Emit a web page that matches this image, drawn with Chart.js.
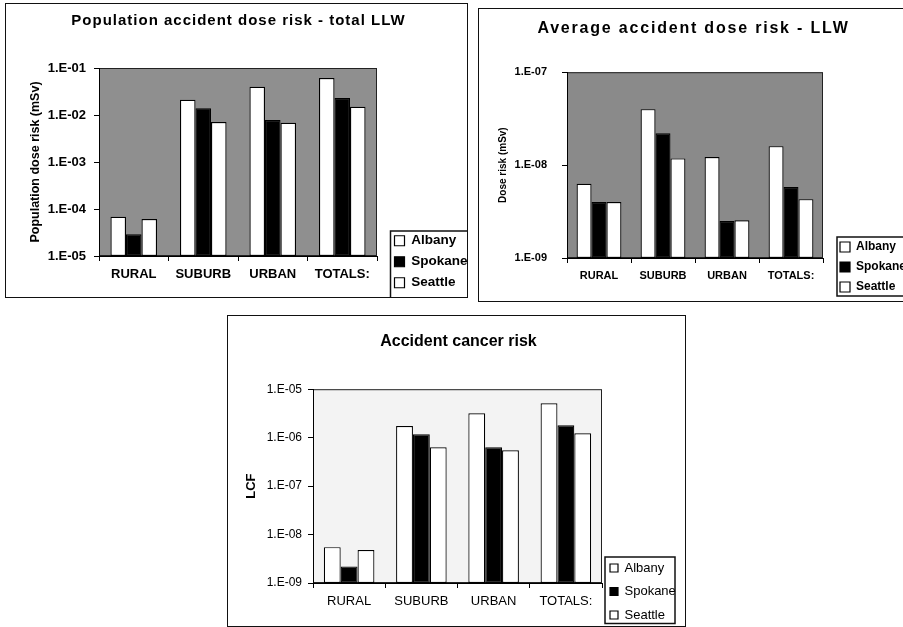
<!DOCTYPE html>
<html>
<head>
<meta charset="utf-8">
<script src="https://cdn.jsdelivr.net/npm/chart.js@4.4.1/dist/chart.umd.min.js"></script>
<style>
  body { margin: 0; background: #fff; width: 903px; height: 627px; overflow: hidden; position: relative; }
  .box { position: absolute; border: 1px solid #111; background: #fff; overflow: hidden; }
  .box canvas { position: absolute; left: 0; top: 0; }
</style>
</head>
<body>
<div class="box" style="left:5px;top:3px;width:461px;height:293px"><canvas id="c1" width="461" height="293"></canvas></div>
<div class="box" style="left:478px;top:8px;width:425px;height:292px"><canvas id="c2" width="425" height="292"></canvas></div>
<div class="box" style="left:227px;top:315px;width:457px;height:310px"><canvas id="c3" width="457" height="310"></canvas></div>
<script>
// Datos comunes
const categories = ['RURAL', 'SUBURB', 'URBAN', 'TOTALS:'];
const seriesNames = ['Albany', 'Spokane', 'Seattle'];

// Population accident dose risk - total LLW (mSv)
const popAlbany = [6.8e-5, 2.1e-2, 4.0e-2, 6.1e-2];
const popSpokane = [2.9e-5, 1.4e-2, 7.8e-3, 2.3e-2];
const popSeattle = [6.1e-5, 7.1e-3, 6.8e-3, 1.5e-2];
const popTicks = [1e-5, 1e-4, 1e-3, 1e-2, 1e-1];
const popTickLabels = ['1.E-05', '1.E-04', '1.E-03', '1.E-02', '1.E-01'];

// Average accident dose risk - LLW (mSv)
const avgAlbany = [6.3e-9, 4.0e-8, 1.22e-8, 1.6e-8];
const avgSpokane = [4.0e-9, 2.2e-8, 2.5e-9, 5.8e-9];
const avgSeattle = [4.0e-9, 1.18e-8, 2.55e-9, 4.3e-9];
const avgTicks = [1e-9, 1e-8, 1e-7];
const avgTickLabels = ['1.E-09', '1.E-08', '1.E-07'];

// Accident cancer risk (LCF)
const lcfAlbany = [5.5e-9, 1.74e-6, 3.2e-6, 5.1e-6];
const lcfSpokane = [2.2e-9, 1.17e-6, 6.3e-7, 1.8e-6];
const lcfSeattle = [4.8e-9, 6.3e-7, 5.5e-7, 1.23e-6];
const lcfTicks = [1e-9, 1e-8, 1e-7, 1e-6, 1e-5];
const lcfTickLabels = ['1.E-09', '1.E-08', '1.E-07', '1.E-06', '1.E-05'];

const seriesFill = ['#ffffff', '#000000', '#ffffff'];
const FONT = "'Liberation Sans', Arial, sans-serif";

// Fondo gris del área de trazado, marco, leyenda con caja y título espaciado
const plotFrame = {
  id: 'plotFrame',
  beforeLayout(chart, args, opts) {
    const lg = chart.legend;
    if (lg && !lg._fixedWidth) {
      const fit = lg.fit.bind(lg);
      lg.fit = function () { fit(); this.width = opts.legendWidth; };
      lg._fixedWidth = true;
    }
  },
  afterLayout(chart, args, opts) {
    const lg = chart.legend;
    lg.left += opts.legendShiftX; lg.right += opts.legendShiftX;
    lg.top += opts.legendShiftY; lg.bottom += opts.legendShiftY;
  },
  beforeDraw(chart, args, opts) {
    const tb = chart.titleBlock;
    if (tb && !tb._spaced) {
      const draw = tb.draw.bind(tb);
      tb.draw = function () {
        const c = this.ctx;
        c.save();
        c.translate(opts.titleShift, 0);
        c.letterSpacing = opts.titleSpacing + 'px';
        draw();
        c.letterSpacing = '0px';
        c.restore();
      };
      tb._spaced = true;
    }
    const { ctx, chartArea: a } = chart;
    ctx.save();
    ctx.fillStyle = opts.fill;
    ctx.fillRect(a.left, a.top, a.right - a.left, a.bottom - a.top);
    ctx.strokeStyle = '#222';
    ctx.lineWidth = 1;
    ctx.strokeRect(a.left + 0.5, a.top + 0.5, a.right - a.left - 1, a.bottom - a.top - 1);
    ctx.restore();
  },
  afterDraw(chart, args, opts) {
    const boxes = chart.legend.legendHitBoxes;
    if (!boxes || !boxes.length) return;
    const top = Math.min(...boxes.map(b => b.top)) - opts.legendPad[0];
    const left = Math.min(...boxes.map(b => b.left)) - opts.legendPad[1];
    const bottom = Math.max(...boxes.map(b => b.top + b.height)) + opts.legendPad[2];
    const right = opts.legendRight;
    const ctx = chart.ctx;
    ctx.save();
    ctx.strokeStyle = '#111';
    ctx.lineWidth = 1.5;
    ctx.strokeRect(left, top, right - left, bottom - top);
    ctx.restore();
  }
};

function makeChart(id, cfg) {
  const datasets = [cfg.a, cfg.b, cfg.c].map((vals, i) => ({
    label: seriesNames[i],
    data: vals,
    backgroundColor: seriesFill[i],
    borderColor: '#000',
    borderWidth: 1.2,
    borderSkipped: false,
    barPercentage: 1,
    categoryPercentage: cfg.catPct
  }));

  return new Chart(document.getElementById(id), {
    type: 'bar',
    data: { labels: categories, datasets },
    plugins: [plotFrame],
    options: {
      responsive: false,
      animation: false,
      layout: { padding: cfg.padding },
      plugins: {
        plotFrame: {
          fill: cfg.plotFill,
          titleSpacing: cfg.titleSpacing,
          titleShift: cfg.titleShift,
          legendWidth: cfg.legendWidth,
          legendShiftX: cfg.legendShift[0],
          legendShiftY: cfg.legendShift[1],
          legendRight: cfg.legendRight,
          legendPad: cfg.legendPad
        },
        title: {
          display: true,
          text: cfg.title,
          color: '#000',
          font: { family: FONT, size: cfg.titleSize, weight: 'bold' },
          padding: cfg.titlePadding
        },
        legend: {
          position: 'right',
          align: 'end',
          labels: {
            color: '#000',
            font: { family: FONT, size: cfg.legendSize, weight: cfg.textWeight },
            boxWidth: cfg.legendBox,
            boxHeight: cfg.legendBox,
            padding: cfg.legendGap
          }
        },
        tooltip: { enabled: false }
      },
      scales: {
        x: {
          grid: { drawOnChartArea: false, tickLength: 5, color: '#000', offset: true },
          border: { color: '#000' },
          ticks: { color: '#000', padding: 6, font: { family: FONT, size: cfg.xSize, weight: cfg.textWeight } },
          afterFit: s => { s.height = cfg.xHeight; }
        },
        y: {
          type: 'logarithmic',
          min: cfg.ticks[0],
          max: cfg.ticks[cfg.ticks.length - 1],
          afterBuildTicks: s => { s.ticks = cfg.ticks.map(v => ({ value: v })); },
          grid: { drawOnChartArea: false, tickLength: 5, color: '#000' },
          border: { color: '#000' },
          ticks: {
            color: '#000',
            padding: cfg.yTickPad,
            font: { family: FONT, size: cfg.ySize, weight: cfg.textWeight },
            callback: v => cfg.tickLabels[cfg.ticks.indexOf(v)]
          },
          title: {
            display: true,
            text: cfg.yTitle,
            color: '#000',
            font: { family: FONT, size: cfg.yTitleSize, weight: 'bold' },
            padding: { top: 0, bottom: 4 }
          },
          afterFit: s => { s.width = cfg.yWidth; }
        }
      }
    }
  });
}

makeChart('c1', {
  title: 'Population accident dose risk - total LLW', titleSize: 15, titleSpacing: 1, titleShift: -9,
  titlePadding: { top: 8, bottom: 38 },
  a: popAlbany, b: popSpokane, c: popSeattle,
  ticks: popTicks, tickLabels: popTickLabels,
  yTitle: 'Population dose risk (mSv)', yTitleSize: 12.5,
  padding: { left: 22, right: 0, top: 0, bottom: 0 },
  yWidth: 71, xHeight: 41, catPct: 0.67, yTickPad: 8,
  xSize: 13, ySize: 13, legendSize: 13.5, textWeight: 'bold',
  legendBox: 10, legendGap: 7.5,
  legendWidth: 90, legendShift: [10, 0], legendRight: 470, legendPad: [3, 4, 8.5],
  plotFill: '#8f8f8f'
});

makeChart('c2', {
  title: 'Average accident dose risk - LLW', titleSize: 16, titleSpacing: 1.8, titleShift: -7,
  titlePadding: { top: 10, bottom: 34 },
  a: avgAlbany, b: avgSpokane, c: avgSeattle,
  ticks: avgTicks, tickLabels: avgTickLabels,
  yTitle: 'Dose risk (mSv)', yTitleSize: 10,
  padding: { left: 18, right: 0, top: 0, bottom: 0 },
  yWidth: 70, xHeight: 43, catPct: 0.70, yTickPad: 15,
  xSize: 11, ySize: 11, legendSize: 12, textWeight: 'bold',
  legendBox: 10, legendGap: 8,
  legendWidth: 81, legendShift: [9, 0], legendRight: 440, legendPad: [4, 3, 3],
  plotFill: '#8a8a8a'
});

makeChart('c3', {
  title: 'Accident cancer risk', titleSize: 16, titleSpacing: 0, titleShift: -6,
  titlePadding: { top: 16, bottom: 38 },
  a: lcfAlbany, b: lcfSpokane, c: lcfSeattle,
  ticks: lcfTicks, tickLabels: lcfTickLabels,
  yTitle: 'LCF', yTitleSize: 13,
  padding: { left: 16, right: 0, top: 0, bottom: 0 },
  yWidth: 69, xHeight: 43, catPct: 0.70, yTickPad: 6,
  xSize: 13, ySize: 12, legendSize: 13, textWeight: 'normal',
  legendBox: 8, legendGap: 10.5,
  legendWidth: 83, legendShift: [-2.5, 6], legendRight: 447, legendPad: [4.5, 5, 2],
  plotFill: '#f3f3f3'
});
</script>
</body>
</html>
